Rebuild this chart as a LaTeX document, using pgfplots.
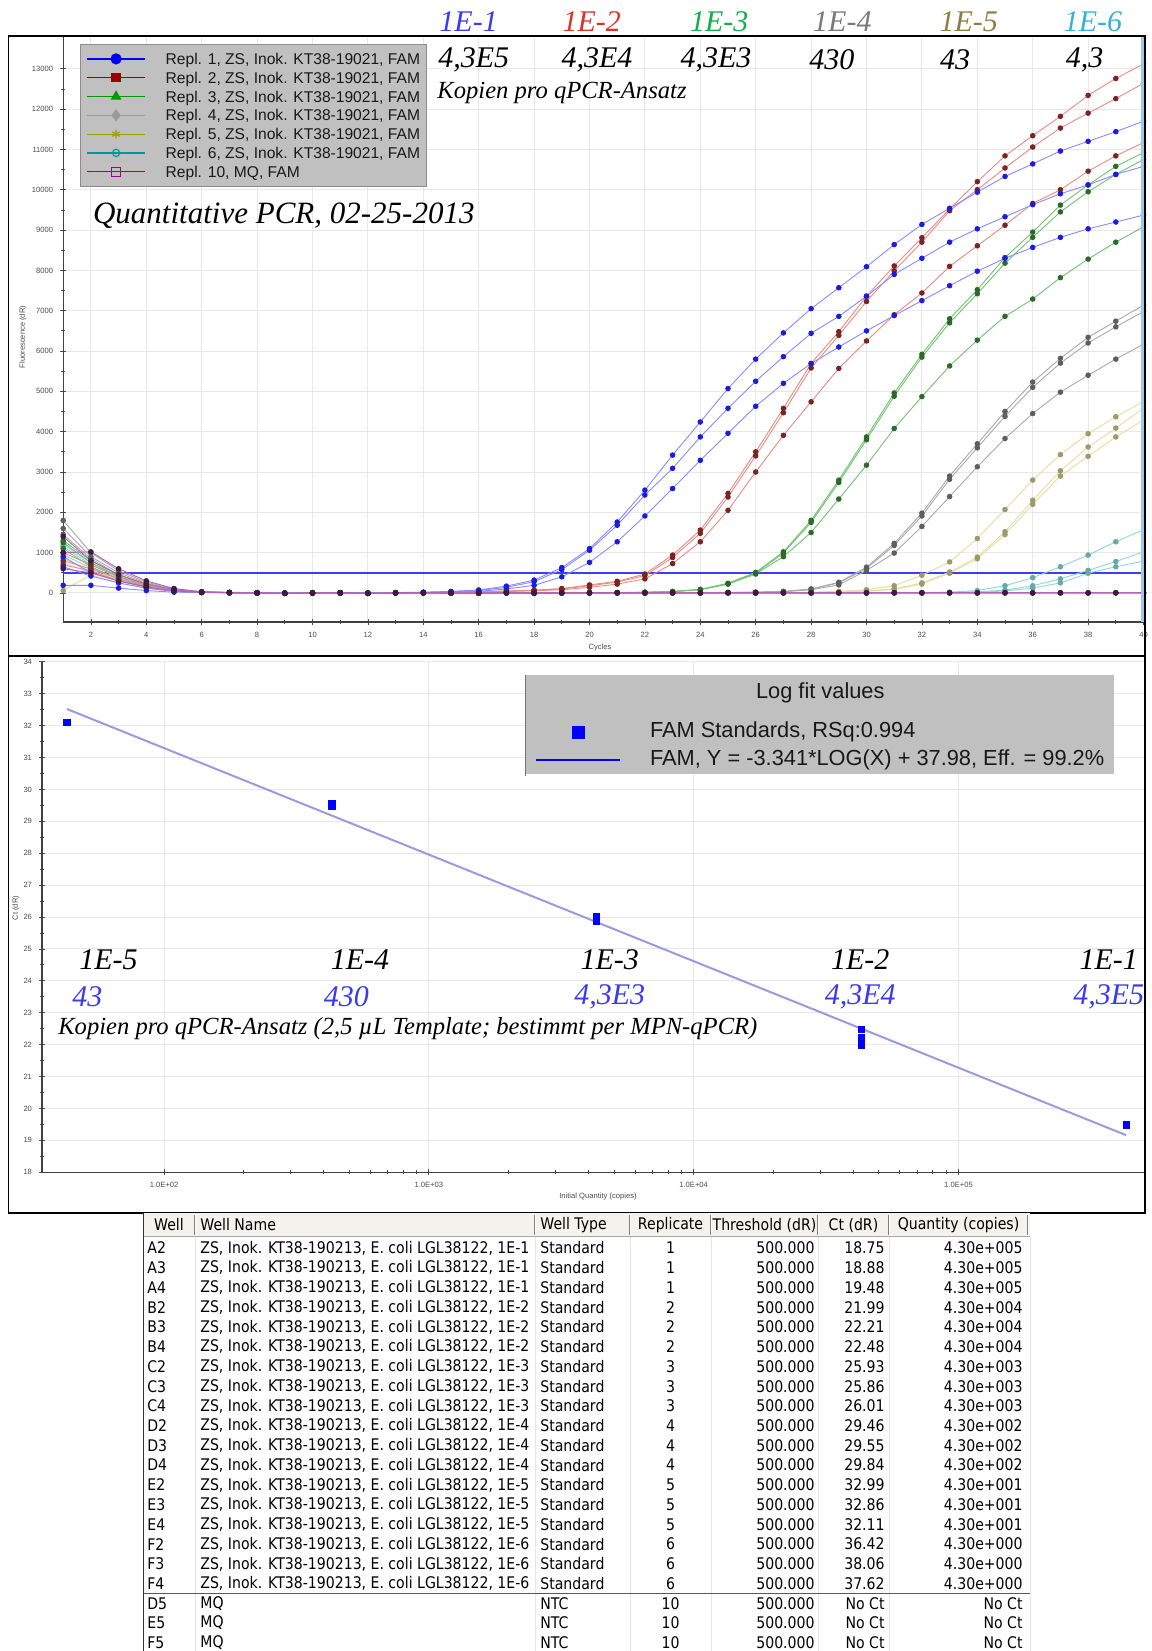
\documentclass[border=0pt]{standalone}
\usepackage{pgfplots}
\usepackage{pgfplotstable}
\pgfplotsset{compat=1.18}
\usepackage{fontspec}
\setmainfont{Liberation Serif}
\newfontfamily\arialfont{Liberation Sans}
\newfontfamily\tabfont[FakeStretch=0.88]{DejaVu Sans}

% curve colours: light line, darker dots
\definecolor{lnBlue}{HTML}{8A8AFF}\definecolor{dotBlue}{HTML}{1C1CE0}
\definecolor{lnRed}{HTML}{EE8A84}\definecolor{dotRed}{HTML}{7A2424}
\definecolor{lnGreen}{HTML}{70C470}\definecolor{dotGreen}{HTML}{2C6A2C}
\definecolor{lnGray}{HTML}{AAAAAA}\definecolor{dotGray}{HTML}{5E5E5E}
\definecolor{lnOlive}{HTML}{E2E0A0}\definecolor{dotOlive}{HTML}{9C9A68}
\definecolor{lnTeal}{HTML}{8CD8D8}\definecolor{dotTeal}{HTML}{68A8A8}
\definecolor{lnMag}{HTML}{B860B8}\definecolor{dotMag}{HTML}{3C1C3C}
\definecolor{thrBlue}{HTML}{3C3CFF}
% legend colours
\definecolor{legBlue}{HTML}{0000FF}\definecolor{legRed}{HTML}{990000}
\definecolor{legGreen}{HTML}{009900}\definecolor{legGray}{HTML}{9A9A9A}
\definecolor{legOlive}{HTML}{A0A000}\definecolor{legTeal}{HTML}{009999}
\definecolor{legMag}{HTML}{990099}
\definecolor{boxGray}{HTML}{C0C0C0}
\definecolor{fitLine}{HTML}{9A9AE0}
\definecolor{hdrBg}{HTML}{F3F2EC}
\definecolor{edgeBlue}{HTML}{9EC8E8}
% annotation colours
\definecolor{labBlue}{HTML}{3A3AF0}\definecolor{labRed}{HTML}{E0302A}
\definecolor{labGreen}{HTML}{12B048}\definecolor{labGray}{HTML}{7A7A7A}
\definecolor{labOlive}{HTML}{8C8040}\definecolor{labCyan}{HTML}{38B0D8}

% amplification data: fluorescence (dR) per cycle, three wells per dilution
% b = 1E-1, r = 1E-2, g = 1E-3, k = 1E-4, o = 1E-5, t = 1E-6, m = NTC (MQ)
\pgfplotstableread{
c   b1    b2    b3    r1    r2    r3    g1    g2    g3    k1    k2    k3    o1    o2    o3    t1    t2    t3    m1    m2    m3
1   190   650   900   1000  800   700   1300  1250  1100  1800  1600  1450  60    750   850   1150  950   1200  1000  600   1400
2   190   420   500   700   600   550   800   750   650   1000  900   850   450   500   560   700   620   750   1020  500   800
3   120   250   300   400   350   300   450   400   350   550   500   450   250   300   330   380   350   420   600   300   450
4   60    120   150   200   170   150   220   180   160   270   240   220   120   150   160   180   160   200   300   150   220
5   20    40    50    70    60    50    80    60    50    100   90    80    40    50    60    60    50    70    110   50    80
6   10    15    20    20    15    10    25    20    15    30    25    20    15    20    20    20    15    20    30    15    20
7   15    10    10    10    10    5     10    10    5     10    10    5     10    10    5     10    10    5     10    10    5
8   10    5     0     5     0     0     5     0     0     5     0     0     5     0     0     5     0     0     5     0     0
9   0     -5    -10   -5    -5    -10   -5    -10   -5    -5    -10   -5    -5    -10   -5    -5    -10   -5    -5    -10   -5
10  -5    0     0     0     5     0     0     5     0     0     5     0     0     5     0     0     5     0     0     5     0
11  5     5     0     5     0     0     5     0     5     5     0     5     5     0     5     5     0     5     5     0     5
12  0     -5    -5    0     -5    -5    -5    -5    -10   -5    -5    -10   -5    -5    -10   -5    -5    -10   -5    -5    -10
13  10    5     0     5     5     0     0     5     0     0     5     0     0     5     0     0     5     0     0     5     0
14  20    15    10    10    10    5     5     0     5     5     0     5     5     0     5     5     0     5     5     0     5
15  40    30    20    20    15    10    0     -5    0     0     -5    0     0     -5    0     0     -5    0     0     -5    0
16  75    60    40    30    25    20    -5    0     -5    -5    0     -5    -5    0     -5    -5    0     -5    -5    0     -5
17  170   140   100   50    45    35    5     5     0     5     5     0     5     5     0     5     5     0     5     5     0
18  320   280   190   70    65    55    0     -5    5     0     -5    5     0     -5    5     0     -5    5     0     -5    5
19  630   580   400   110   100   80    5     0     0     5     0     0     5     0     0     5     0     0     5     0     0
20  1100  1060  760   200   180   140   10    5     5     0     5     0     0     5     0     0     5     0     0     5     0
21  1760  1680  1270  290   270   220   10    10    5     5     0     5     5     0     5     5     0     5     5     0     5
22  2550  2430  1910  470   430   350   20    15    15    0     5     0     0     5     0     0     5     0     0     5     0
23  3420  3090  2590  940   880   730   40    35    30    10    5     5     5     0     5     5     0     5     5     0     5
24  4240  3870  3290  1560  1480  1270  90    85    80    10    10    5     0     5     0     0     5     0     0     5     0
25  5070  4580  3960  2470  2380  2050  240   230   220   15    10    10    5     5     5     5     0     5     5     0     5
26  5800  5250  4630  3500  3400  3000  510   490   470   20    20    15    10    5     5     0     5     0     0     5     0
27  6450  5860  5200  4580  4470  3910  1020  990   900   40    35    30    15    10    10    5     0     5     5     0     5
28  7050  6440  5690  5690  5580  4740  1800  1750  1500  100   95    80    20    15    10    0     5     0     0     5     0
29  7570  6860  6100  6480  6390  5570  2800  2740  2330  265   250   200   40    25    20    5     0     5     5     0     5
30  8090  7360  6500  7360  7230  6250  3870  3800  3170  640   610   560   80    50    40    5     5     0     0     5     0
31  8640  7900  6880  8110  7990  6900  4960  4880  4080  1230  1180  990   180   100   90    10    5     5     5     0     5
32  9140  8300  7250  8810  8700  7440  5920  5850  4870  1980  1910  1650  440   250   220   10    10    5     0     5     0
33  9540  8700  7620  9520  9480  8100  6800  6700  5630  2900  2820  2390  770   520   490   20    15    10    5     0     5
34  9940  9030  7980  10200 10000 8610  7520  7420  6270  3700  3600  3130  1350  890   850   60    30    15    0     5     0
35  10330 9330  8300  10840 10540 9120  8320  8180  6860  4500  4380  3830  2070  1520  1450  180   70    50    5     0     5
36  10640 9630  8570  11340 11060 9660  8950  8820  7290  5230  5100  4450  2800  2300  2200  380   180   120   0     5     0
37  10960 9900  8820  11820 11530 10000 9620  9450  7820  5820  5700  4980  3430  3030  2900  650   350   250   5     0     5
38  11200 10120 9030  12340 11900 10460 10120 9950  8280  6340  6200  5400  3950  3620  3390  940   560   490   0     5     0
39  11440 10380 9200  12760 12260 10840 10580 10380 8700  6740  6600  5800  4370  4090  3870  1270  780   650   5     0     5
40  11700 10580 9370  13120 12640 11170 10920 10750 9080  7140  6980  6170  4750  4580  4290  1570  1020  790   0     5     0
}\ampdata

% standard curve points (copies, Ct) and the log fit line end points
\pgfplotstableread{
q       ct
43      32.11
430     29.46
430     29.55
4300    25.93
4300    25.86
4300    26.01
43000   21.99
43000   22.21
43000   22.48
430000  19.48
}\stdpts

\pgfplotstableread{
q       ct
43      32.52
430000  19.16
}\fitpts

\pgfplotsset{
  curve/.style n args={2}{color=#1, line width=0.45pt, mark=*, mark size=1.15pt,
      mark options={draw=#2, fill=#2}, forget plot},
  legmark/.style={legend image code/.code={\path[draw=none,fill=none] (0pt,0pt) -- (42pt,0pt);
      \draw[##1] plot coordinates {(21pt,0pt)};}},
  legline/.style={legend image code/.code={\draw[##1] (0pt,0pt) -- (42pt,0pt);}},
}

\begin{document}
\begin{tikzpicture}
\useasboundingbox (0pt,0pt) rectangle (576pt,-825.5pt);
\fill[white] (0pt,0pt) rectangle (576pt,-825.5pt);

%---------------- amplification plot ----------------
\begin{axis}[
  at={(31.6pt,-311pt)}, anchor=south west,
  scale only axis, width=540.85pt, height=292.75pt,
  xmin=1, xmax=40.05, ymin=-720, ymax=13800,
  axis lines=left, axis line style={-, black!75, line width=0.6pt},
  xtick={2,4,...,40}, ytick={0,1000,...,13000},
  scaled y ticks=false,
  minor x tick num=1, minor y tick num=1,
  tick align=center, major tick length=3pt, minor tick length=2pt,
  tick style={black!70, line width=0.4pt},
  grid=major, major grid style={black!9, line width=0.5pt},
  ticklabel style={font=\arialfont\fontsize{3.8}{4}\selectfont, text=black!70},
  /pgf/number format/assume math mode=true,
  /pgf/number format/set thousands separator={},
  legend image code/.code={\draw[mark repeat=2,mark phase=2,#1]
      plot coordinates {(0pt,0pt) (14.5pt,0pt) (29pt,0pt)};},
  legend cell align=left,
  legend style={at={(0.0155,0.9872)}, anchor=north west,
      fill=boxGray, draw=black!45, line width=0.5pt,
      font=\arialfont\fontsize{7.8}{8}\selectfont, text=black!90,
      inner xsep=3pt, inner ysep=3.6pt, row sep=2.2pt, column sep=10pt,
      nodes={inner sep=0pt, text height=6.4pt, text depth=0.8pt}},
]
% threshold
\addplot[thrBlue, line width=0.8pt, forget plot] coordinates {(1,500) (40.05,500)};

\addplot[curve={lnTeal}{dotTeal}] table[x=c,y=t1] {\ampdata};
\addplot[curve={lnTeal}{dotTeal}] table[x=c,y=t2] {\ampdata};
\addplot[curve={lnTeal}{dotTeal}] table[x=c,y=t3] {\ampdata};
\addplot[curve={lnOlive}{dotOlive}] table[x=c,y=o1] {\ampdata};
\addplot[curve={lnOlive}{dotOlive}] table[x=c,y=o2] {\ampdata};
\addplot[curve={lnOlive}{dotOlive}] table[x=c,y=o3] {\ampdata};
\addplot[curve={lnGray}{dotGray}] table[x=c,y=k1] {\ampdata};
\addplot[curve={lnGray}{dotGray}] table[x=c,y=k2] {\ampdata};
\addplot[curve={lnGray}{dotGray}] table[x=c,y=k3] {\ampdata};
\addplot[curve={lnGreen}{dotGreen}] table[x=c,y=g1] {\ampdata};
\addplot[curve={lnGreen}{dotGreen}] table[x=c,y=g2] {\ampdata};
\addplot[curve={lnGreen}{dotGreen}] table[x=c,y=g3] {\ampdata};
\addplot[curve={lnRed}{dotRed}] table[x=c,y=r1] {\ampdata};
\addplot[curve={lnRed}{dotRed}] table[x=c,y=r2] {\ampdata};
\addplot[curve={lnRed}{dotRed}] table[x=c,y=r3] {\ampdata};
\addplot[curve={lnBlue}{dotBlue}] table[x=c,y=b1] {\ampdata};
\addplot[curve={lnBlue}{dotBlue}] table[x=c,y=b2] {\ampdata};
\addplot[curve={lnBlue}{dotBlue}] table[x=c,y=b3] {\ampdata};
\addplot[curve={lnMag}{dotMag}] table[x=c,y=m1] {\ampdata};
\addplot[curve={lnMag}{dotMag}] table[x=c,y=m2] {\ampdata};
\addplot[curve={lnMag}{dotMag}] table[x=c,y=m3] {\ampdata};

\addlegendimage{legBlue, line width=0.6pt, mark=*, mark size=2.5pt, mark options={fill=legBlue}}
\addlegendentry{Repl. 1, ZS, Inok. KT38-19021, FAM}
\addlegendimage{legRed, line width=0.6pt, mark=square*, mark size=2pt, mark options={fill=legRed}}
\addlegendentry{Repl. 2, ZS, Inok. KT38-19021, FAM}
\addlegendimage{legGreen, line width=0.6pt, mark=triangle*, mark size=2.5pt, mark options={fill=legGreen}}
\addlegendentry{Repl. 3, ZS, Inok. KT38-19021, FAM}
\addlegendimage{legGray, line width=0.6pt, mark=diamond*, mark size=2.6pt, mark options={fill=legGray}}
\addlegendentry{Repl. 4, ZS, Inok. KT38-19021, FAM}
\addlegendimage{legOlive, line width=0.6pt, mark=asterisk, mark size=2.2pt}
\addlegendentry{Repl. 5, ZS, Inok. KT38-19021, FAM}
\addlegendimage{legTeal, line width=0.6pt, mark=o, mark size=1.8pt, mark options={fill=white}}
\addlegendentry{Repl. 6, ZS, Inok. KT38-19021, FAM}
\addlegendimage{legMag, line width=0.6pt, mark=square, mark size=2.2pt, mark options={fill=white}}
\addlegendentry{Repl. 10, MQ, FAM}
\end{axis}

%---------------- standard curve ----------------
\begin{axis}[
  at={(21pt,-586.1pt)}, anchor=south west,
  scale only axis, width=551.35pt, height=255.2pt,
  xmode=log, xmin=34.6, xmax=505000, ymin=18, ymax=34,
  axis lines=left, axis line style={-, black!75, line width=0.6pt},
  xtick={100,1000,10000,100000},
  xticklabels={1.0E+02,1.0E+03,1.0E+04,1.0E+05},
  ytick={18,19,...,34}, minor y tick num=1,
  tick align=center, major tick length=3pt, minor tick length=2pt,
  tick style={black!70, line width=0.4pt},
  grid=major, major grid style={black!9, line width=0.5pt},
  ticklabel style={font=\arialfont\fontsize{3.8}{4}\selectfont, text=black!70},
  /pgf/number format/assume math mode=true,
  legend cell align=left,
  legend style={at={(0.4384,0.8918)}, anchor=north west, name=fitleg,
      fill=boxGray, draw=none,
      font=\arialfont\fontsize{10.9}{12}\selectfont, text=black!90,
      inner xsep=4.8pt, inner ysep=2pt, row sep=3pt, column sep=14.3pt,
      nodes={inner sep=0pt, text height=8.2pt, text depth=2.5pt}},
]
\addplot[fitLine, line width=1pt, forget plot] table[x=q,y=ct] {\fitpts};
\addplot[only marks, mark=square*, mark size=1.6pt, color=blue, forget plot]
   table[x=q,y=ct] {\stdpts};

\addlegendimage{only marks, mark=square*, mark size=2.9pt, color=legBlue, legmark}
\addlegendentry{FAM Standards, RSq:0.994}
\addlegendimage{legBlue, line width=1pt, legline}
\addlegendentry{FAM, Y = -3.341*LOG(X) + 37.98, Eff. = 99.2\%}
\end{axis}

% title strip of the fit legend box
\fill[boxGray] ([yshift=21pt]fitleg.north west) rectangle (fitleg.north east);
\node[font=\arialfont\fontsize{10.9}{12}\selectfont, text=black!90, inner sep=0pt]
   at (410.15pt,-346.4pt) {Log fit values};

%---------------- frames, labels, table (pixel grid) ----------------
\begin{scope}[x=0.5pt,y=-0.5pt]
  % panel frames
  \draw[black, line width=0.75pt] (8.4,36) rectangle (1145,656);
  \draw[black, line width=0.75pt] (8.4,656) rectangle (1145,1213);
  \draw[edgeBlue, line width=1.6pt] (1142.5,37) -- (1142.5,622);
  \draw[black!55, line width=0.8pt] (525.4,675) -- (525.4,776);

  % axis titles
  \node[rotate=90, font=\arialfont\fontsize{3.8}{4}\selectfont, text=black!70] at (23,337) {Fluorescence (dR)};
  \node[font=\arialfont\fontsize{3.8}{4}\selectfont, text=black!70] at (600,648) {Cycles};
  \node[rotate=90, font=\arialfont\fontsize{3.8}{4}\selectfont, text=black!70] at (16,908) {Ct (dR)};
  \node[font=\arialfont\fontsize{3.8}{4}\selectfont, text=black!70] at (598,1197) {Initial Quantity (copies)};

  % dilution annotations above the amplification plot
  \begin{scope}[every node/.style={font=\itshape\fontsize{15}{16}\selectfont, inner sep=0pt}]
    \node[text=labBlue]  at (468.6,22) {1E-1};
    \node[text=labRed]   at (591.8,22) {1E-2};
    \node[text=labGreen] at (719.2,22) {1E-3};
    \node[text=labGray]  at (842.4,22) {1E-4};
    \node[text=labOlive] at (968.7,22) {1E-5};
    \node[text=labCyan]  at (1093,22)  {1E-6};
    \node at (473.8,60) {4,3E5};
    \node at (597,60)   {4,3E4};
    \node at (716,60)   {4,3E3};
    \node at (831.8,60) {430};
    \node at (955,60)   {43};
    \node at (1084.6,60){4,3};
  \end{scope}
  \node[anchor=west, inner sep=0pt, font=\itshape\fontsize{12.3}{13}\selectfont] at (437,93) {Kopien pro qPCR-Ansatz};
  \node[anchor=west, inner sep=0pt, font=\itshape\fontsize{15.5}{16}\selectfont] at (92.7,215.5) {Quantitative PCR, 02-25-2013};

  % annotations in the standard curve
  \begin{scope}[every node/.style={font=\itshape\fontsize{15}{16}\selectfont, inner sep=0pt}]
    \node at (108.5,960) {1E-5};
    \node at (360,960)   {1E-4};
    \node at (609.7,960) {1E-3};
    \node at (860.3,960) {1E-2};
    \node at (1108.8,960){1E-1};
    \node[text=labBlue] at (87.4,997)   {43};
    \node[text=labBlue] at (346.4,997)  {430};
    \node[text=labBlue] at (609.7,997)  {4,3E3};
    \node[text=labBlue] at (860.3,997)  {4,3E4};
    \node[text=labBlue] at (1108.8,997) {4,3E5};
  \end{scope}
  \node[anchor=west, inner sep=0pt, font=\itshape\fontsize{12.3}{13}\selectfont] at (57.9,1029)
     {Kopien pro qPCR-Ansatz (2,5 µL Template; bestimmt per MPN-qPCR)};

  % ---------- results table ----------
  \fill[hdrBg] (143.5,1213) rectangle (1030,1236);
  \foreach \xx in {195,535,630,711,818,889,1028} {
    \draw[black!50, line width=0.5pt] (\xx-0.8,1215) -- (\xx-0.8,1235);
    \draw[white, line width=0.5pt] (\xx+0.4,1215) -- (\xx+0.4,1235);
  }
  \draw[black!35, line width=0.5pt] (143.5,1236.5) -- (1030,1236.5);
  \foreach \xx in {195,535,630,711,818,889} {
    \draw[black!10, line width=0.5pt] (\xx,1237) -- (\xx,1651);
  }
  \draw[black!10, line width=0.5pt] (1030,1237) -- (1030,1651);
  \draw[black!80, line width=0.7pt] (143.5,1213) -- (143.5,1651);
  \draw[black!65, line width=0.6pt] (143.5,1593.5) -- (1030,1593.5);

  \begin{scope}[every node/.style={font=\tabfont\fontsize{8}{9}\selectfont, inner sep=0pt}]
    \node at (169,1225) {Well};
    \node[anchor=west] at (200,1225) {Well Name};
    \node[anchor=west] at (540,1225) {Well Type};
    \node at (670.5,1225) {Replicate};
    \node at (764.5,1225) {Threshold (dR)};
    \node at (853.5,1225) {Ct (dR)};
    \node at (958.5,1225) {Quantity (copies)};

    \foreach \w/\d/\r/\ct/\q [count=\i from 0] in {
      A2/1E-1/1/18.75/4.30e+005, A3/1E-1/1/18.88/4.30e+005, A4/1E-1/1/19.48/4.30e+005,
      B2/1E-2/2/21.99/4.30e+004, B3/1E-2/2/22.21/4.30e+004, B4/1E-2/2/22.48/4.30e+004,
      C2/1E-3/3/25.93/4.30e+003, C3/1E-3/3/25.86/4.30e+003, C4/1E-3/3/26.01/4.30e+003,
      D2/1E-4/4/29.46/4.30e+002, D3/1E-4/4/29.55/4.30e+002, D4/1E-4/4/29.84/4.30e+002,
      E2/1E-5/5/32.99/4.30e+001, E3/1E-5/5/32.86/4.30e+001, E4/1E-5/5/32.11/4.30e+001,
      F2/1E-6/6/36.42/4.30e+000, F3/1E-6/6/38.06/4.30e+000, F4/1E-6/6/37.62/4.30e+000} {
      \node[anchor=west] at (147,{1248+\i*19.74}) {\w};
      \node[anchor=west] at (200,{1248+\i*19.74}) {ZS, Inok. KT38-190213, E. coli LGL38122, \d};
      \node[anchor=west] at (540,{1248+\i*19.74}) {Standard};
      \node at (670.5,{1248+\i*19.74}) {\r};
      \node[anchor=east] at (815,{1248+\i*19.74}) {500.000};
      \node[anchor=east] at (885,{1248+\i*19.74}) {\ct};
      \node[anchor=east] at (1023,{1248+\i*19.74}) {\q};
    }
    \foreach \w [count=\i from 18] in {D5,E5,F5} {
      \node[anchor=west] at (147,{1248+\i*19.74}) {\w};
      \node[anchor=west] at (200,{1248+\i*19.74}) {MQ};
      \node[anchor=west] at (540,{1248+\i*19.74}) {NTC};
      \node at (670.5,{1248+\i*19.74}) {10};
      \node[anchor=east] at (815,{1248+\i*19.74}) {500.000};
      \node[anchor=east] at (885,{1248+\i*19.74}) {No Ct};
      \node[anchor=east] at (1023,{1248+\i*19.74}) {No Ct};
    }
  \end{scope}
\end{scope}
\end{tikzpicture}
\end{document}
